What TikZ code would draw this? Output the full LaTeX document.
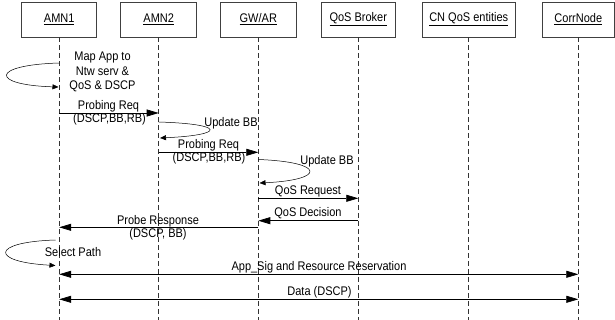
\documentclass[tikz,border=0pt]{standalone}
\usepackage{fontspec}
\setmainfont{Liberation Sans}[FakeStretch=0.88]
\usetikzlibrary{arrows.meta}
\begin{document}
\begin{tikzpicture}[x=1pt,y=-1pt,
  font=\fontsize{12.5}{14.5}\selectfont,
  head/.style={draw=black!75, line width=0.6pt, fill=white, minimum height=35pt, inner sep=0pt},
  life/.style={draw=black!80, dash pattern=on 5pt off 3pt, line width=0.5pt},
  msg/.style={draw=black, line width=0.7pt, -{Triangle[length=12pt,width=7pt]}},
  dmsg/.style={draw=black, line width=0.7pt, {Triangle[length=12pt,width=7pt]}-{Triangle[length=12pt,width=7pt]}},
  selfmsg/.style={draw=black, line width=0.5pt, -{Triangle[length=6pt,width=5pt]}},
  lbl/.style={inner sep=0pt, align=center}]
\useasboundingbox (0,0) rectangle (615,320);
% heads
\node[head, minimum width=75pt] (h1) at (59.2,19.5) {\underline{AMN1}};
\node[head, minimum width=76pt] (h2) at (158.7,19.5) {\underline{AMN2}};
\node[head, minimum width=75.3pt] (h3) at (258.3,19.5) {\underline{GW/AR}};
\node[head, minimum width=73.3pt] (h4) at (358.3,19.5) {\underline{QoS Broker}};
\node[head, minimum width=92.7pt] (h5) at (468.7,19.5) {\underline{CN QoS entities}};
\node[head, minimum width=72pt] (h6) at (578.3,19.5) {\underline{CorrNode}};
% lifelines
\coordinate (bot) at (0,320);
\foreach \h in {h1,h2,h3,h4,h5,h6}{
  \draw[life] (\h.south) -- (\h.south |- bot);
}
% row coordinates
\coordinate (r1) at (0,113);
\coordinate (r2) at (0,152.3);
\coordinate (r3) at (0,198.3);
\coordinate (r4) at (0,220.7);
\coordinate (r5) at (0,227.3);
\coordinate (r6) at (0,274.3);
\coordinate (r7) at (0,299.3);
% self loop 1: Map App
\coordinate (s1a) at (59.2,63);
\coordinate (s1b) at (58.5,87);
\draw[selfmsg] (s1a) .. controls (-10,65) and (-10,85) .. (s1b);
\node[lbl] (t0) at (102.5,72) {Map App to\\Ntw serv \&\\QoS \& DSCP};
% Probing Req 1
\draw[msg] (h1 |- r1) -- (h2 |- r1);
\node[lbl] (t1a) at (108.5,106) {Probing Req};
\node[lbl] (t1b) at (109.5,119.5) {(DSCP,BB,RB)};
% Update BB 1
\coordinate (s2a) at (158.7,122);
\coordinate (s2b) at (160,138);
\draw[selfmsg] (s2a) .. controls (226,124) and (226,135) .. (s2b);
\node[lbl] (t2) at (231,123) {Update BB};
% Probing Req 2
\draw[msg] (h2 |- r2) -- (h3 |- r2);
\node[lbl] (t3a) at (208.5,145) {Probing Req};
\node[lbl] (t3b) at (209,158.5) {(DSCP,BB,RB)};
% Update BB 2
\coordinate (s3a) at (258.3,159.5);
\coordinate (s3b) at (259.5,183);
\draw[selfmsg] (s3a) .. controls (326,162) and (326,180) .. (s3b);
\node[lbl] (t4) at (327,161) {Update BB};
% QoS Request
\draw[msg] (h3 |- r3) -- (h4 |- r3);
\node[lbl] (t5) at (308,191) {QoS Request};
% QoS Decision
\draw[msg] (h4 |- r4) -- (h3 |- r4);
\node[lbl] (t6) at (308,213.5) {QoS Decision};
% Probe Response
\draw[msg] (h3 |- r5) -- (h1 |- r5);
\node[lbl] (t7a) at (158,221) {Probe Response};
\node[lbl] (t7b) at (158,234) {(DSCP, BB)};
% Select Path
\coordinate (s4a) at (55.5,240);
\coordinate (s4b) at (55.5,265.5);
\draw[selfmsg] (s4a) .. controls (-10,242) and (-10,262) .. (s4b);
\node[lbl] (t8) at (73,252.5) {Select Path};
% App_Sig
\draw[dmsg] (h1 |- r6) -- (h6 |- r6);
\node[lbl] (t9) at (319,267.5) {App\_Sig and Resource Reservation};
% Data
\draw[dmsg] (h1 |- r7) -- (h6 |- r7);
\node[lbl] (t10) at (319.5,292.5) {Data (DSCP)};
\end{tikzpicture}
\end{document}
